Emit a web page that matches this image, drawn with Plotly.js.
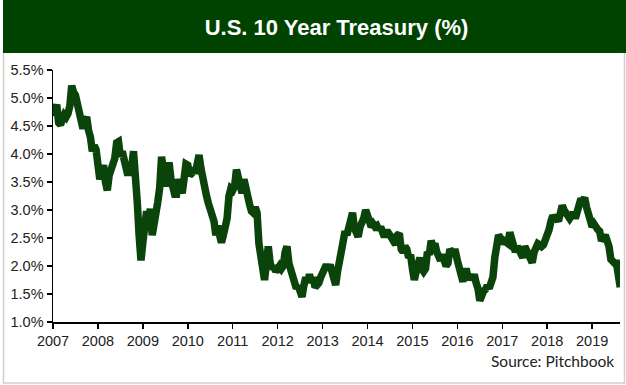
<!DOCTYPE html>
<html>
<head>
<meta charset="utf-8">
<script src="https://cdn.plot.ly/plotly-3.0.1.min.js"></script>
<style>html,body{margin:0;padding:0;background:#fff;}#chart{width:626px;height:385px;}</style>
</head>
<body>
<div id="chart"></div>
<script>
// U.S. 10 Year Treasury yield (%), two readings per month, starting January 2007
const y2007 = [4.68,4.82,4.88,4.56,4.52,4.62,4.70,4.66,4.72,4.86,5.22,5.10,5.05,4.90,4.75,4.62,4.45,4.60,4.66,4.42,4.30,4.05,4.15,4.08];
const y2008 = [3.82,3.55,3.68,3.80,3.50,3.35,3.62,3.75,3.85,3.92,4.20,4.22,3.95,4.05,3.90,3.80,3.62,3.82,3.75,4.05,3.70,3.15,2.55,2.10];
const y2009 = [2.42,2.62,2.98,2.85,3.02,2.55,2.85,2.95,3.15,3.40,3.95,3.70,3.42,3.65,3.85,3.55,3.40,3.28,3.28,3.55,3.42,3.30,3.55,3.82];
const y2010 = [3.80,3.62,3.65,3.75,3.65,3.82,3.98,3.75,3.50,3.30,3.25,3.12,3.00,2.95,2.80,2.55,2.72,2.55,2.42,2.55,2.72,2.85,3.25,3.38];
const y2011 = [3.35,3.42,3.72,3.55,3.45,3.30,3.55,3.35,3.20,3.10,2.98,2.95,3.05,2.95,2.40,2.15,1.95,1.75,2.05,2.35,2.05,1.95,2.00,1.90];
const y2012 = [1.95,2.00,1.95,2.00,2.25,2.35,2.05,1.95,1.85,1.75,1.60,1.65,1.52,1.45,1.65,1.80,1.70,1.85,1.70,1.80,1.62,1.65,1.70,1.80];
const y2013 = [1.88,1.96,2.02,1.95,2.02,1.90,1.75,1.66,1.90,2.08,2.20,2.50,2.62,2.55,2.72,2.85,2.95,2.68,2.62,2.52,2.70,2.75,2.85,3.00];
const y2014 = [2.90,2.75,2.70,2.75,2.70,2.72,2.65,2.70,2.60,2.52,2.60,2.60,2.55,2.48,2.42,2.38,2.55,2.58,2.30,2.25,2.35,2.30,2.15,2.20];
const y2015 = [1.95,1.75,1.90,2.10,2.15,1.95,1.90,1.95,2.25,2.20,2.45,2.35,2.40,2.25,2.15,2.10,2.20,2.10,2.00,2.05,2.30,2.25,2.25,2.25];
const y2016 = [2.10,2.00,1.80,1.72,1.90,1.90,1.75,1.85,1.75,1.85,1.70,1.60,1.38,1.55,1.55,1.58,1.65,1.60,1.75,1.80,2.15,2.35,2.55,2.50];
const y2017 = [2.40,2.45,2.42,2.40,2.60,2.45,2.30,2.25,2.35,2.25,2.20,2.15,2.35,2.28,2.22,2.18,2.06,2.25,2.35,2.40,2.38,2.35,2.38,2.45];
const y2018 = [2.55,2.65,2.80,2.90,2.85,2.85,2.80,2.95,3.08,3.00,2.95,2.88,2.85,2.90,2.95,2.85,2.95,3.08,3.20,3.16,3.22,3.05,2.90,2.78];
const y2019 = [2.70,2.75,2.68,2.65,2.62,2.45,2.50,2.55,2.45,2.35,2.12,2.05,2.05,2.05,1.75,1.62];

const yields = [].concat(y2007,y2008,y2009,y2010,y2011,y2012,y2013,y2014,y2015,y2016,y2017,y2018,y2019);
const yearTicks = [2007,2008,2009,2010,2011,2012,2013,2014,2015,2016,2017,2018,2019];
const yTicks = [1.0,1.5,2.0,2.5,3.0,3.5,4.0,4.5,5.0,5.5];

const green = 'rgb(0,66,0)';
const trace = {
  type: 'scatter', mode: 'lines',
  x0: 2007, dx: 1/24, y: yields,
  line: {color: 'rgb(10,68,10)', width: 7.5, shape: 'linear'},
  hoverinfo: 'skip'
};

// helpers for pixel -> paper conversion of decoration shapes
const L = 53, R = 6, T = 70, B = 63, W = 626, H = 385;
const pw = W - L - R, ph = H - T - B;
const px = p => (p - L) / pw;
const py = p => (H - B - p) / ph;

const layout = {
  width: W, height: H,
  margin: {l: L, r: R, t: T, b: B, pad: 0},
  paper_bgcolor: '#fff', plot_bgcolor: '#fff',
  showlegend: false,
  font: {family: 'Liberation Sans, Arial, sans-serif', color: '#222'},
  title: {text: 'U.S. 10 Year Treasury (%)', font: {family: 'Liberation Sans, Arial, sans-serif', size: 22, color: '#fff', weight: 'bold'},
          x: 0.5, xanchor: 'center', y: 1 - 27/H, yanchor: 'middle', xref: 'paper'},
  xaxis: {
    range: [2007, 2019.62], tickvals: yearTicks, ticktext: yearTicks.map(String),
    showgrid: false, zeroline: false, showline: true, linecolor: '#000', linewidth: 1.5,
    ticks: 'outside', ticklen: 5, tickwidth: 1.5, tickcolor: '#000',
    tickfont: {size: 14.5, color: '#222'}, fixedrange: true
  },
  yaxis: {
    range: [1.0, 5.5], tickvals: yTicks, ticktext: yTicks.map(v => v.toFixed(1) + '%'),
    showgrid: false, zeroline: false, showline: true, linecolor: '#000', linewidth: 1.5,
    ticks: 'outside', ticklen: 5, tickwidth: 1.5, tickcolor: '#000',
    tickfont: {size: 14.5, color: '#222'}, fixedrange: true
  },
  shapes: [
    {type: 'rect', xref: 'paper', yref: 'paper', x0: px(3.5), x1: px(624.5), y0: py(383), y1: py(52),
     line: {color: '#cfcfcf', width: 1.5}, fillcolor: 'rgba(0,0,0,0)', layer: 'below'},
    {type: 'rect', xref: 'paper', yref: 'paper', x0: px(3), x1: px(626), y0: py(53), y1: py(0),
     line: {width: 0}, fillcolor: green, layer: 'below'}
  ],
  annotations: [
    {text: 'Source: Pitchbook', xref: 'paper', yref: 'paper', x: px(616), y: py(361), xanchor: 'right', yanchor: 'middle',
     showarrow: false, font: {family: 'Lato, Carlito, sans-serif', size: 15.5, color: '#222'}}
  ]
};

Plotly.newPlot('chart', [trace], layout, {staticPlot: true, displayModeBar: false});
</script>
</body>
</html>
